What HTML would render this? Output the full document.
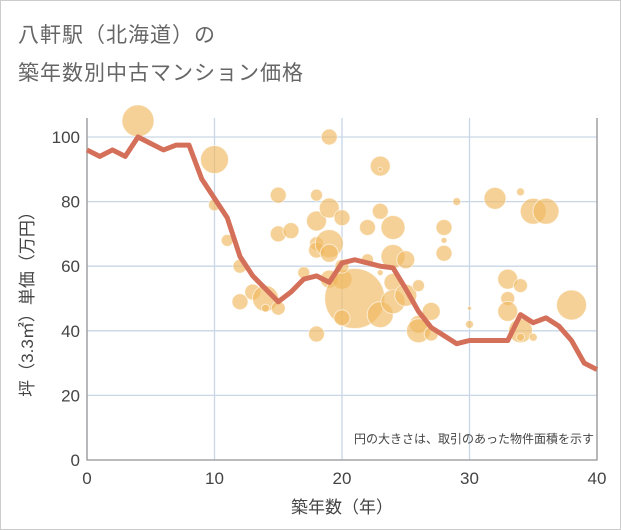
<!DOCTYPE html>
<html><head><meta charset="utf-8"><style>
body{margin:0;background:#fff;font-family:"Liberation Sans","Noto Sans CJK JP",sans-serif}
#wrap{position:relative;width:619px;height:528px;border:1px solid #ccc}
.t{position:absolute;left:17px;font-size:21px;color:#666;letter-spacing:1px}
</style></head><body>
<div id="wrap">
<div class="t" style="top:18px">八軒駅（北海道）の</div>
<div class="t" style="top:56px">築年数別中古マンション価格</div>
<svg id="c" width="621" height="530" style="position:absolute;left:-1px;top:-1px"></svg>
</div>
<script>
const lineAges=[0,1,2,3,4,5,6,7,8,9,10,11,12,13,14,15,16,17,18,19,20,21,22,23,24,25,26,27,28,29,30,31,32,33,34,35,36,37,38,39,40];
const lineValues=[96,94,96,94,100,98,96,97.5,97.5,87,81,75,63,57,53,49,52,56,57,55,61,62,61,60,59.5,53,46,41,38.5,36,37,37,37,37,45,42.5,44,41.5,37,30,28];
const bubbleAges=[4,10,10,11,12,12,13,14,14,15,15,15,16,17,18,18,18,18,18,19,19,19,19,19,20,20,21,20,20,22,23,23,22,23,24,24,23,23,25,24,24,25,26,27,26,26,27,28,28,28,29,30,30,32,33,33,33,34,34,34,34,35,36,38,35];
const bubbleValues=[105,93,79,68,60,49,52,50,47,47,82,70,71,58,82,74,67,65,39,100,78,67,64,56,75,56,50,60,44,72,91,90,62,77,72,63,45,58,62,55,49,51,54,46,42,40,39,72,68,64,80,47,42,81,56,50,46,83,54,40,38,77,77,48,38];
const bubbleSizes=[16,14,6,6,7,8,8,13,4,7,8,8,8,6,6,10,7,8,8,8,10,14,9,9,8,10,30,7,8,8,10,2,6,8,12,12,13,3,9,9,12,11,6,9,9,12,7,8,3,8,4,2,4,11,10,7,10,4,7,12,4,13,13,15,4];
const xTicks=[0,10,20,30,40], yTicks=[0,20,40,60,80,100];
const X=a=>87+a*12.75, Y=v=>460-v*3.23;
const svg=document.getElementById('c'), NS='http://www.w3.org/2000/svg';
function mk(t,a,p){const e=document.createElementNS(NS,t);for(const k in a)e.setAttribute(k,a[k]);(p||svg).appendChild(e);return e;}
for(const v of yTicks){const g=mk('line',{x1:87,x2:597,y1:Y(v),y2:Y(v),stroke:'#c9d6e6','stroke-width':1.3});


const t=mk('text',{x:80,y:Y(v)+6,'text-anchor':'end','font-size':17,fill:'#444'});t.textContent=v;

}
for(const a of xTicks){const g=mk('line',{x1:X(a),x2:X(a),y1:118,y2:460,stroke:'#c9d6e6','stroke-width':1.3});


const t=mk('text',{x:X(a),y:484,'text-anchor':'middle','font-size':17,fill:'#444'});t.textContent=a;

}
const ax=mk('path',{d:'M87 118V460H597V118',fill:'none',stroke:'#999','stroke-width':1.3});


bubbleAges.forEach((a,i)=>{const c=mk('circle',{cx:X(a),cy:Y(bubbleValues[i]),r:bubbleSizes[i],fill:'#f0b860','fill-opacity':0.65,stroke:'#fff','stroke-opacity':0.6,'stroke-width':1});

});
const p=mk('polyline',{points:lineAges.map((a,i)=>X(a)+','+Y(lineValues[i])).join(' '),fill:'none',stroke:'#d4705a','stroke-width':5,'stroke-linejoin':'round'});


const n=mk('text',{x:594,y:443,'text-anchor':'end','font-size':12,fill:'#444'});n.textContent='円の大きさは、取引のあった物件面積を示す';


const xt=mk('text',{x:342,y:513,'text-anchor':'middle','font-size':17,fill:'#444'});xt.textContent='築年数（年）';


const yt=mk('text',{x:0,y:0,'text-anchor':'middle','font-size':17,fill:'#444',transform:'translate(33,300) rotate(-90)'});yt.textContent='坪（3.3㎡）単価（万円）';


</script>
</body></html>
